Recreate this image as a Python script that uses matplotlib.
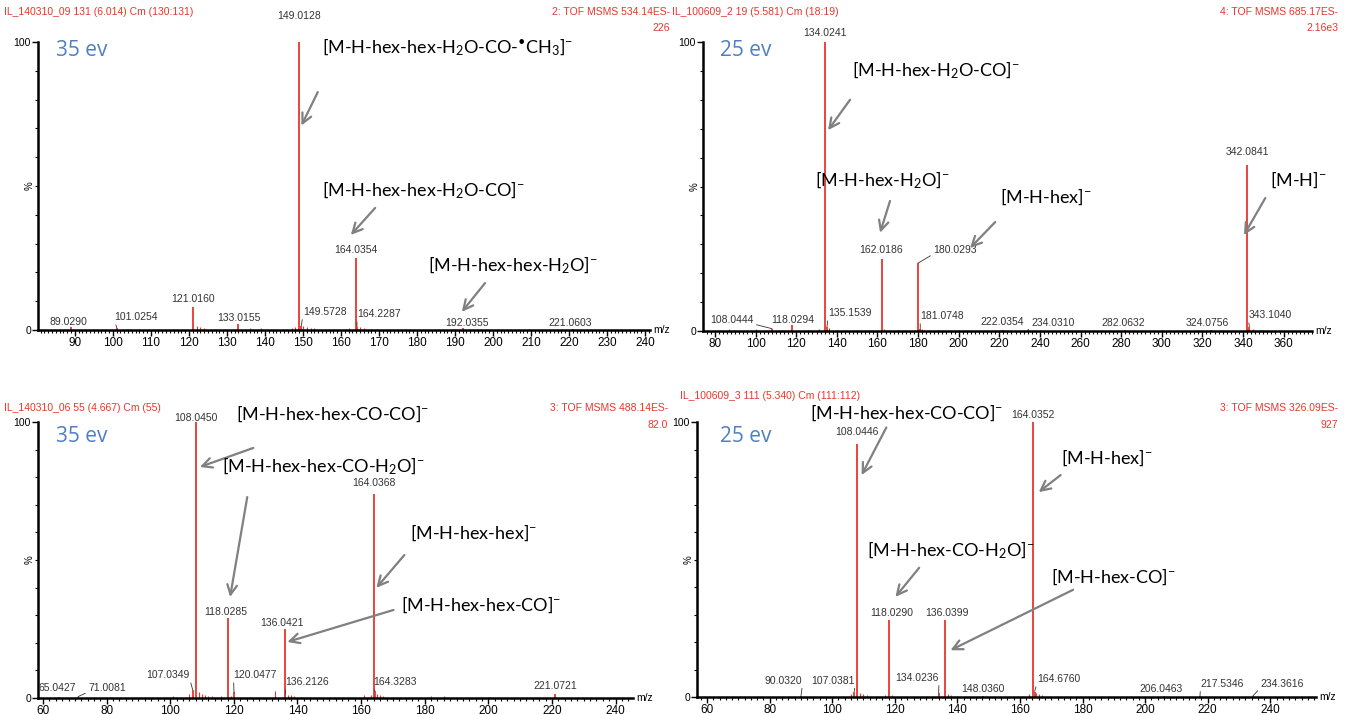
import matplotlib
matplotlib.use("Agg")
import matplotlib.pyplot as plt
from matplotlib.ticker import MultipleLocator, FixedLocator

plt.rcParams["font.family"] = ["Liberation Sans", "DejaVu Sans"]
plt.rcParams["mathtext.fontset"] = "custom"
plt.rcParams["mathtext.rm"] = "Lato"
plt.rcParams["mathtext.it"] = "Lato:italic"
plt.rcParams["mathtext.bf"] = "Lato:bold"

W, H = 1346, 715
RED = "#e8362c"
BLUE = "#4f7fc0"
GREY = "#808080"
LABEL_COL = "#333333"

# ---- panel A: top left, 35 eV ----
a_mz = [89.0290, 101.0254, 121.0160, 133.0155, 149.0128, 149.5728, 164.0354, 164.2287, 192.0355, 221.0603]
a_int = [1.0, 0.8, 8.0, 2.0, 100.0, 1.5, 25.0, 1.2, 0.6, 0.4]
a_noise_mz = [86, 88, 104, 107, 112, 122, 123, 124, 127, 130, 136, 139, 147, 148, 150, 151, 152, 153, 158, 161, 162, 165, 166, 168, 177, 190]
a_noise_int = [0.5, 0.4, 0.5, 0.4, 0.3, 1.5, 1.0, 0.8, 0.5, 0.4, 0.6, 0.8, 0.6, 1.2, 1.5, 1.0, 0.8, 0.6, 0.5, 0.5, 0.6, 1.0, 0.7, 0.4, 0.4, 0.4]
# label placement (text centre) for each labelled peak
a_lab_x = [88.2, 106.2, 121.0, 133.2, 149.0, 155.7, 164.0, 169.9, 193.2, 220.3]
a_lab_y = [2.8, 4.5, 10.8, 4.2, 109, 6.3, 27.8, 5.5, 2.4, 2.4]
a_notes = [r"[M-H-hex-hex-H$_2$O-CO-$^{•}$CH$_3$]$^{-}$",
           r"[M-H-hex-hex-H$_2$O-CO]$^{-}$",
           r"[M-H-hex-hex-H$_2$O]$^{-}$"]
a_note_text = [(155, 98), (155, 48.6), (182.9, 22.6)]
a_note_tail = [(153.9, 82.6), (169, 42.4), (197.9, 16.3)]
a_note_head = [(149.6, 71), (162.6, 33), (191.8, 6.3)]

# ---- panel B: top right, 25 eV ----
b_mz = [108.0444, 118.0294, 134.0241, 135.1539, 162.0186, 180.0293, 181.0748, 222.0354, 234.0310, 282.0632, 324.0756, 342.0841, 343.1040]
b_int = [0.8, 2.0, 100.0, 1.5, 25.0, 23.5, 0.6, 0.3, 0.3, 0.3, 0.5, 57.5, 1.5]
b_noise_mz = [87, 100, 113, 126, 131, 136, 140, 145, 150, 155, 163, 170, 182, 190, 200, 240, 300, 318, 330, 345, 350]
b_noise_int = [0.6, 0.8, 0.5, 0.5, 0.6, 1.2, 0.5, 0.4, 0.5, 0.4, 0.8, 0.4, 0.6, 0.4, 0.3, 0.3, 0.3, 0.4, 0.4, 0.8, 0.4]
b_lab_x = [88.4, 118.5, 134.0, 146.5, 162.0, 198.2, 191.8, 221.4, 246.5, 281.0, 322.4, 342.0, 353.4]
b_lab_y = [3.8, 3.8, 103, 6.2, 28, 28, 5.2, 3.1, 2.8, 2.8, 2.8, 62, 5.5]
b_notes = [r"[M-H-hex-H$_2$O-CO]$^{-}$",
           r"[M-H-hex-H$_2$O]$^{-}$",
           r"[M-H-hex]$^{-}$",
           r"[M-H]$^{-}$"]
b_note_text = [(147.5, 90.3), (129.3, 52), (220.4, 46.4), (353.4, 52.2)]
b_note_tail = [(146.5, 80), (166.2, 45), (218, 37.7), (351, 46)]
b_note_head = [(135.7, 69.5), (161.3, 34), (205.6, 28.7), (340.5, 33.2)]

# ---- panel C: bottom left, 35 eV ----
c_mz = [65.0427, 71.0081, 107.0349, 108.0450, 118.0285, 120.0477, 136.0421, 136.2126, 164.0368, 164.3283, 221.0721]
c_int = [0.5, 0.5, 3.0, 100.0, 29.0, 2.0, 25.0, 1.5, 74.0, 2.5, 1.5]
c_noise_mz = [76, 81, 92, 101, 106, 109, 110, 111, 112, 113, 116, 119, 125, 127, 133, 137, 138, 139, 141, 144, 161, 163, 165, 166, 167, 170, 175, 182, 186, 200]
c_noise_int = [0.5, 0.5, 0.5, 0.6, 1.5, 2.0, 1.5, 1.0, 0.8, 0.6, 0.6, 0.8, 0.5, 0.5, 2.5, 1.2, 1.0, 0.8, 0.5, 0.5, 1.0, 1.0, 1.5, 1.0, 0.6, 0.5, 0.5, 0.6, 0.6, 0.4]
c_lab_x = [64.4, 80.1, 99.3, 108.0, 117.5, 126.7, 135.2, 143.0, 164.0, 170.7, 221.0]
c_lab_y = [3.6, 3.6, 8.3, 101.5, 31.2, 8.3, 27.0, 5.8, 78.0, 5.8, 4.3]
c_notes = [r"[M-H-hex-hex-CO-CO]$^{-}$",
           r"[M-H-hex-hex-CO-H$_2$O]$^{-}$",
           r"[M-H-hex-hex]$^{-}$",
           r"[M-H-hex-hex-CO]$^{-}$"]
c_note_text = [(120.8, 103), (116.3, 84), (175.5, 60), (172.4, 33.7)]
c_note_tail = [(126.1, 90.6), (124.2, 72.8), (173.6, 51.8), (170.2, 31.9)]
c_note_head = [(109.3, 83.7), (118.8, 36.6), (164.8, 39.9), (136.8, 20.3)]

# ---- panel D: bottom right, 25 eV ----
d_mz = [90.0320, 107.0381, 108.0446, 118.0290, 134.0236, 136.0399, 148.0360, 164.0352, 164.6760, 206.0463, 217.5346, 234.3616]
d_int = [0.5, 2.0, 92.0, 28.0, 1.5, 28.0, 0.5, 100.0, 2.0, 0.5, 0.3, 0.3]
d_noise_mz = [106, 109, 110, 111, 117, 119, 137, 138, 140, 163, 165, 166, 167]
d_noise_int = [1.0, 1.5, 1.0, 0.6, 0.6, 0.8, 1.0, 0.6, 0.5, 1.0, 1.5, 1.0, 0.6]
d_lab_x = [84.5, 100.4, 108.0, 118.9, 127.2, 136.7, 148.2, 164.0, 172.4, 205.2, 224.6, 243.8]
d_lab_y = [6.0, 6.0, 96.4, 30.5, 7.0, 30.5, 3.0, 102.5, 6.5, 3.0, 4.8, 4.8]
d_notes = [r"[M-H-hex-hex-CO-CO]$^{-}$",
           r"[M-H-hex]$^{-}$",
           r"[M-H-hex-CO-H$_2$O]$^{-}$",
           r"[M-H-hex-CO]$^{-}$"]
d_note_text = [(92.8, 103.3), (173, 87), (111, 53.5), (170, 43.6)]
d_note_tail = [(117.3, 98), (173, 80.7), (127.8, 47), (177, 39)]
d_note_head = [(109.4, 80.7), (166, 74.5), (120.2, 36.4), (137.8, 17)]


def draw_panel(ax, mz, inten, noise_mz, noise_int, lab_x, lab_y,
               notes, note_text, note_tail, note_head, xlim, major, minor):
    ax.set_facecolor("none")
    ax.vlines(noise_mz, 0, noise_int, color=RED, lw=0.8)
    ax.vlines(mz, 0, inten, color=RED, lw=1.3)
    for m, i, lx, ly in zip(mz, inten, lab_x, lab_y):
        label = f"{m:.4f}"
        if abs(lx - m) > 3:
            rel = (0, 0.1) if lx > m else (1, 0.1)
            ax.annotate(label, xy=(m, i), xytext=(lx, ly), ha="center", va="center",
                        fontsize=7.5, color=LABEL_COL, annotation_clip=False,
                        arrowprops=dict(arrowstyle="-", lw=0.6, color=LABEL_COL,
                                        shrinkA=0, shrinkB=0, relpos=rel))
        else:
            ax.text(lx, ly, label, ha="center", va="center", fontsize=7.5,
                    color=LABEL_COL, clip_on=False)

    for txt, pos, tail, head in zip(notes, note_text, note_tail, note_head):
        ax.text(pos[0], pos[1], txt, ha="left", va="center", fontsize=13,
                family=["Lato", "DejaVu Sans"], color="black", clip_on=False)
        ax.annotate("", xy=head, xytext=tail, annotation_clip=False,
                    arrowprops=dict(arrowstyle="->,head_length=0.7,head_width=0.35",
                                    lw=1.6, color=GREY, shrinkA=0, shrinkB=0))

    ax.set_xlim(*xlim)
    ax.set_ylim(0, 100)
    for s in ["top", "right"]:
        ax.spines[s].set_visible(False)
    ax.spines["left"].set_linewidth(1.8)
    ax.spines["bottom"].set_linewidth(1.8)
    ax.xaxis.set_major_locator(MultipleLocator(major))
    ax.xaxis.set_minor_locator(MultipleLocator(minor))
    ax.yaxis.set_major_locator(FixedLocator([0, 100]))
    ax.yaxis.set_minor_locator(MultipleLocator(10))
    ax.tick_params(axis="x", which="major", length=4, width=1, labelsize=8.5, pad=1)
    ax.tick_params(axis="x", which="minor", length=2, width=0.8)
    ax.tick_params(axis="y", which="major", length=4, width=1, labelsize=7.5, pad=1)
    ax.tick_params(axis="y", which="minor", length=2, width=0.8)
    ax.text(1.005, 0, "m/z", transform=ax.transAxes, ha="left", va="center", fontsize=7.5)
    ax.text(-0.014, 0.5, "%", transform=ax.transAxes, ha="center", va="center",
            fontsize=7, rotation=90)


def ftext(x, y, s, **kw):
    fig.text(x / W, 1 - y / H, s, **kw)


fig = plt.figure(figsize=(W / 100, H / 100), dpi=100)

ax_a = fig.add_axes([38 / W, 1 - 330 / H, (650 - 38) / W, 288 / H])
ax_b = fig.add_axes([703 / W, 1 - 331 / H, (1312 - 703) / W, 289 / H])
ax_c = fig.add_axes([38 / W, 1 - 698 / H, (633 - 38) / W, 276 / H])
ax_d = fig.add_axes([697 / W, 1 - 697 / H, (1316 - 697) / W, 275 / H])

draw_panel(ax_a, a_mz, a_int, a_noise_mz, a_noise_int, a_lab_x, a_lab_y,
           a_notes, a_note_text, a_note_tail, a_note_head, (80.3, 241.3), 10, 1)
draw_panel(ax_b, b_mz, b_int, b_noise_mz, b_noise_int, b_lab_x, b_lab_y,
           b_notes, b_note_text, b_note_tail, b_note_head, (74.1, 374), 20, 2)
draw_panel(ax_c, c_mz, c_int, c_noise_mz, c_noise_int, c_lab_x, c_lab_y,
           c_notes, c_note_text, c_note_tail, c_note_head, (58.4, 245.5), 20, 2)
draw_panel(ax_d, d_mz, d_int, d_noise_mz, d_noise_int, d_lab_x, d_lab_y,
           d_notes, d_note_text, d_note_tail, d_note_head, (56.8, 254.6), 20, 2)

# headers
hdr = dict(fontsize=7.5, color=RED, va="center")
ftext(4, 12, "IL_140310_09 131 (6.014) Cm (130:131)", ha="left", **hdr)
ftext(670, 12, "2: TOF MSMS 534.14ES-", ha="right", **hdr)
ftext(670, 28, "226", ha="right", **hdr)
ftext(672, 12, "IL_100609_2 19 (5.581) Cm (18:19)", ha="left", **hdr)
ftext(1338, 12, "4: TOF MSMS 685.17ES-", ha="right", **hdr)
ftext(1338, 28, "2.16e3", ha="right", **hdr)
ftext(4, 408, "IL_140310_06 55 (4.667) Cm (55)", ha="left", **hdr)
ftext(668, 408, "3: TOF MSMS 488.14ES-", ha="right", **hdr)
ftext(668, 425, "82.0", ha="right", **hdr)
ftext(680, 396, "IL_100609_3 111 (5.340) Cm (111:112)", ha="left", **hdr)
ftext(1338, 408, "3: TOF MSMS 326.09ES-", ha="right", **hdr)
ftext(1338, 425, "927", ha="right", **hdr)

ev = dict(fontsize=15, color=BLUE, ha="left", va="center", family=["Open Sans", "DejaVu Sans"])
ftext(56, 50, "35 ev", **ev)
ftext(720, 50, "25 ev", **ev)
ftext(56, 437, "35 ev", **ev)
ftext(720, 437, "25 ev", **ev)

fig.savefig("out.png", dpi=100)
